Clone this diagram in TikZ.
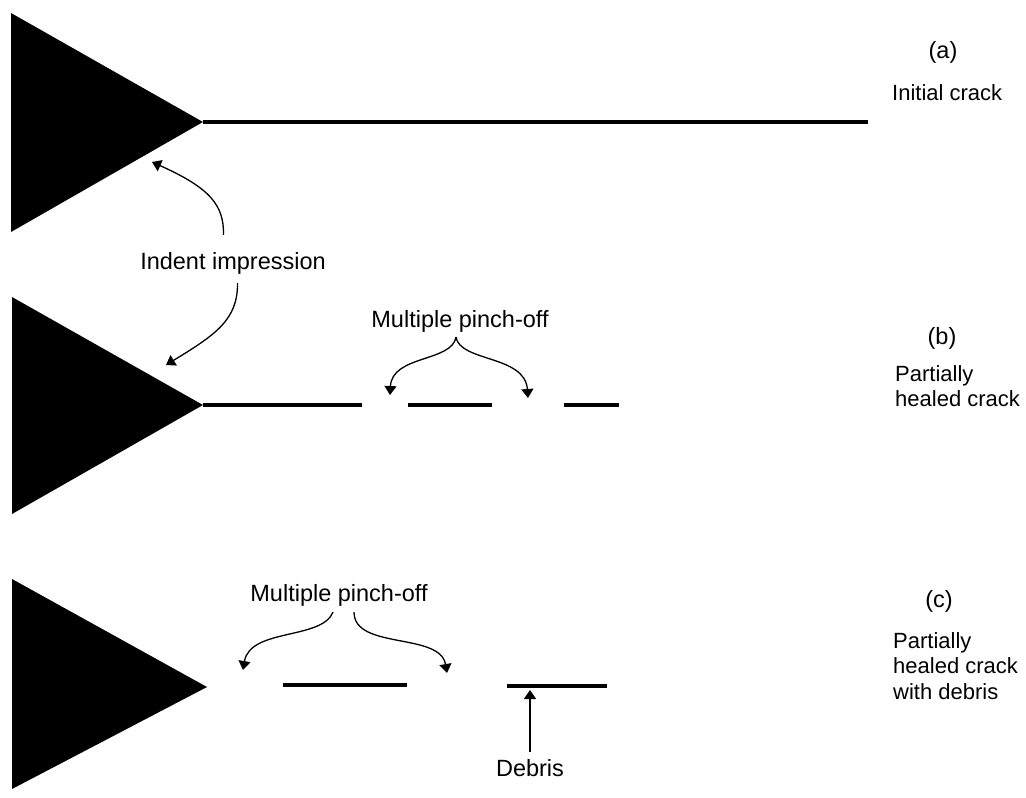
\documentclass[tikz,border=0pt]{standalone}
\usepackage{fontspec}
\setmainfont{Liberation Sans}
\usetikzlibrary{positioning, arrows.meta}

\begin{document}
\begin{tikzpicture}[x=1pt, y=-1pt]

	% Styles
	\tikzset{
		indent/.style={fill=black},
		crack/.style={line width=4pt},
		arrow/.style={line width=1.3pt, -{Triangle[length=9pt, width=12pt]}},
		labelbox/.style={inner sep=0pt, font=\fontsize{23.5}{27}\selectfont},
		caption/.style={inner sep=0pt, font=\fontsize{22}{25.5}\selectfont, anchor=north west, align=left}
	}

	\useasboundingbox (0,0) rectangle (1026,798);

	% Indent impressions
	\coordinate (tipA) at (203,122);
	\coordinate (tipB) at (203,405);
	\coordinate (tipC) at (207,687);
	\fill[indent] (11,13) -- (11,232) -- (tipA) -- cycle;
	\fill[indent] (12,297) -- (12,514) -- (tipB) -- cycle;
	\fill[indent] (12,579) -- (12,789) -- (tipC) -- cycle;

	% Cracks
	\coordinate (endA) at (868,122);
	\draw[crack] (tipA) -- (endA);

	\coordinate (b1) at (362,405);
	\coordinate (b2) at (408,405);
	\coordinate (b3) at (492,405);
	\coordinate (b4) at (564,405);
	\coordinate (b5) at (619,405);
	\draw[crack] (tipB) -- (b1);
	\draw[crack] (b2) -- (b3);
	\draw[crack] (b4) -- (b5);

	\coordinate (c1) at (283,685);
	\coordinate (c2) at (407,685);
	\coordinate (debrisL) at (507,686);
	\coordinate (debrisR) at (607,686);
	\draw[crack] (c1) -- (c2);
	\draw[crack] (debrisL) -- (debrisR);

	% Labels
	\node (indentlbl) [labelbox, anchor=base] at (233,269) {Indent impression};
	\node (pinchB) [labelbox, anchor=base] at (460,327) {Multiple pinch-off};
	\node (pinchC) [labelbox, anchor=base] at (339,601) {Multiple pinch-off};
	\node (debrislbl) [labelbox, anchor=base] at (530,776) {Debris};

	\node (capA) [labelbox, anchor=base] at (943,58) {(a)};
	\node (textA) [caption, anchor=base west] at (892,100) {Initial crack};
	\node (capB) [labelbox, anchor=base] at (942,344) {(b)};
	\node (textB) [caption] at (895,365) {Partially\\healed crack};
	\node (capC) [labelbox, anchor=base] at (939,607) {(c)};
	\node (textC) [caption] at (893,632) {Partially\\healed crack\\with debris};

	% Arrows
	\coordinate (indentA) at (152,162);
	\coordinate (indentB) at (166,365);
	\draw[arrow] ([xshift=-9.5pt, yshift=17pt]indentlbl.north) .. controls (224,205) and (210,188) .. (indentA);
	\draw[arrow] ([xshift=4.5pt, yshift=-9pt]indentlbl.south) .. controls (238,320) and (215,335) .. (indentB);

	\coordinate (gapB1) at (390,395);
	\coordinate (gapB2) at (528,398);
	\draw[arrow] ([xshift=-4pt, yshift=-5pt]pinchB.south) .. controls (452,362) and (392,355) .. (gapB1);
	\draw[arrow] ([xshift=-4pt, yshift=-5pt]pinchB.south) .. controls (460,362) and (525,355) .. (gapB2);

	\coordinate (gapC1) at (243,670);
	\coordinate (gapC2) at (447,673);
	\draw[arrow] ([xshift=-6pt, yshift=-6pt]pinchC.south) .. controls (322,640) and (250,628) .. (gapC1);
	\draw[arrow] ([xshift=15pt, yshift=-6pt]pinchC.south) .. controls (354,650) and (440,632) .. (gapC2);

	\draw[arrow] ([yshift=7pt]debrislbl.north) -- ([yshift=-4pt]debrisL -| debrislbl.north);

\end{tikzpicture}
\end{document}
